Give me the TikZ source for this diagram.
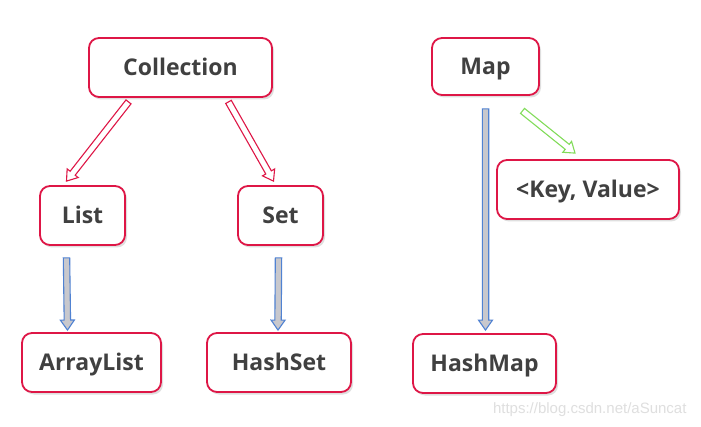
\documentclass[tikz,border=0pt]{standalone}
\usepackage{fontspec}
\setmainfont{Open Sans}
\newfontfamily\wmfont{Liberation Sans}
\usetikzlibrary{calc,shadows}
\definecolor{boxred}{RGB}{222,22,70}
\definecolor{txtgray}{RGB}{64,64,64}
\definecolor{arrblue}{RGB}{80,130,210}
\definecolor{arrgray}{RGB}{200,200,205}
\definecolor{arrgreen}{RGB}{130,220,90}
\tikzset{
  box/.style={draw=boxred, line width=1.8pt, rounded corners=10pt, fill=white,
    minimum height=59pt, inner sep=0pt, text=txtgray, text height=16.5pt, text depth=0pt,
    font=\fontsize{23}{26}\selectfont\bfseries,
    drop shadow={shadow xshift=2pt, shadow yshift=-2.5pt, opacity=0.25, fill=gray}},
}
\newcommand{\blockarrow}[5]{%
  \coordinate (#1h) at ($(#3)!10pt!(#2)$);
  \draw[line width=1.1pt, draw=#4, fill=#5, line join=miter]
    ($(#2)!3.2pt!90:(#3)$) -- ($(#1h)!3.2pt!90:(#3)$) -- ($(#1h)!7pt!90:(#3)$) -- (#3)
    -- ($(#1h)!7pt!-90:(#3)$) -- ($(#1h)!3.2pt!-90:(#3)$) -- ($(#2)!3.2pt!-90:(#3)$) -- cycle;}
\begin{document}
\begin{tikzpicture}[x=1pt, y=-1pt]
\useasboundingbox[fill=white] (0,0) rectangle (701,427);
\node[box, minimum width=183pt] (coll) at (180.5,67.5) {Collection};
\node[box, minimum width=107pt, minimum height=57pt] (map) at (485.5,66.5) {Map};
\node[box, minimum width=85pt] (list) at (82.5,215.5) {List};
\node[box, minimum width=85pt] (set) at (280.5,215.5) {Set};
\node[box, minimum width=182pt] (kv) at (588,189.5) {<Key, Value>};
\node[box, minimum width=139pt] (alist) at (91.5,362.5) {ArrayList};
\node[box, minimum width=144pt] (hset) at (279,362.5) {HashSet};
\node[box, minimum width=143pt] (hmap) at (484.5,363.5) {HashMap};
\node[font=\wmfont\fontsize{15}{17}\selectfont, text=gray!25, anchor=east] (wm) at (690,410) {https://blog.csdn.net/aSuncat};
% connectors
\coordinate (a1s) at ($(coll.south)+(-52,4)$);
\coordinate (a1e) at ($(list.north)+(-16,-4)$);
\blockarrow{a1}{a1s}{a1e}{boxred}{white}
\coordinate (a2s) at ($(coll.south)+(48,4)$);
\coordinate (a2e) at ($(set.north)+(-7,-4)$);
\blockarrow{a2}{a2s}{a2e}{boxred}{white}
\coordinate (a3s) at ($(list.south)+(-16,12)$);
\coordinate (a3e) at ($(alist.north)+(-24,-2)$);
\blockarrow{a3}{a3s}{a3e}{arrblue}{arrgray}
\coordinate (a4s) at ($(set.south)+(-2,12)$);
\coordinate (a4e) at ($(hset.north)+(-1,-2)$);
\blockarrow{a4}{a4s}{a4e}{arrblue}{arrgray}
\coordinate (a5s) at ($(map.south)+(0,13)$);
\coordinate (a5e) at ($(hmap.north)+(1,-3)$);
\blockarrow{a5}{a5s}{a5e}{arrblue}{arrgray}
\coordinate (a6s) at ($(map.south)+(37,15)$);
\coordinate (a6e) at ($(kv.north)+(-13,-6)$);
\blockarrow{a6}{a6s}{a6e}{arrgreen}{white}
\end{tikzpicture}
\end{document}
